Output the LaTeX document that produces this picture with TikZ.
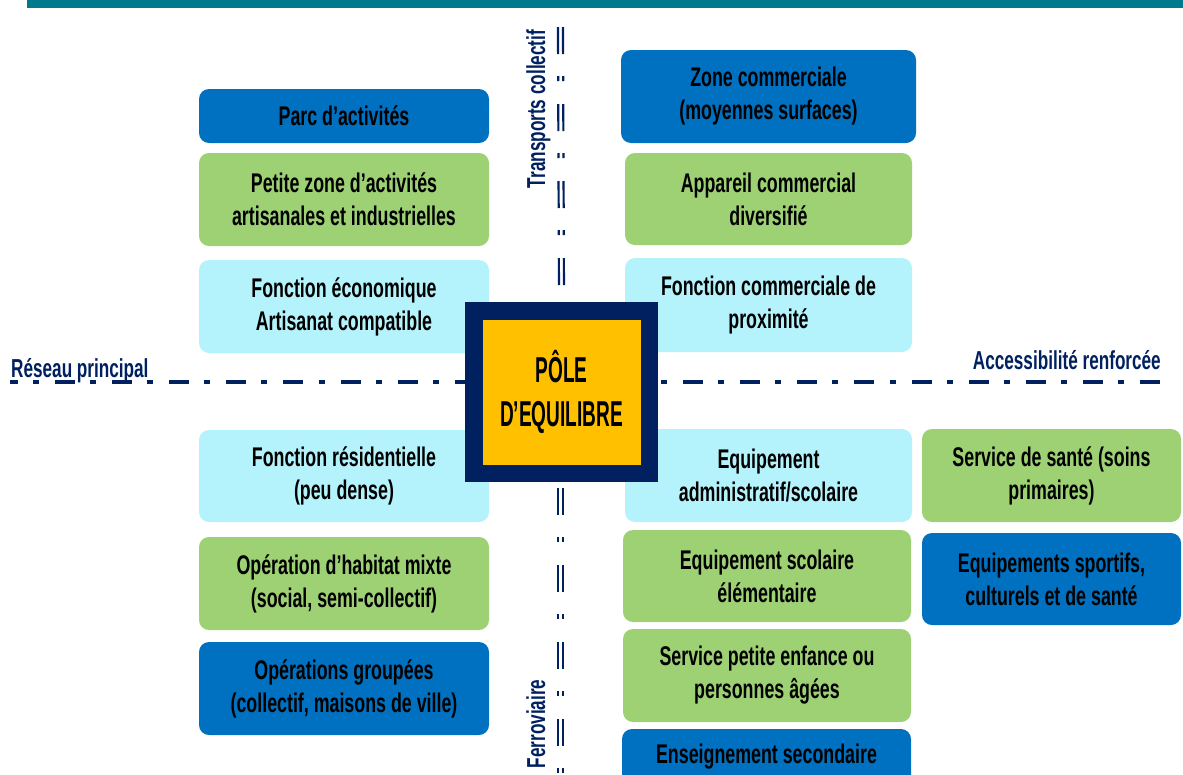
\documentclass[tikz,border=0pt]{standalone}
\usepackage{fontspec}
\setmainfont{Liberation Sans}
\newfontfamily\cellfont[FakeStretch=0.66]{Liberation Sans}
\newfontfamily\polefont[FakeStretch=0.53]{Liberation Sans}
\definecolor{navy}{HTML}{002060}
\definecolor{bluebox}{HTML}{0070C0}
\definecolor{greenbox}{HTML}{9DD174}
\definecolor{cyanbox}{HTML}{B4F3FC}
\definecolor{polefill}{HTML}{FFC000}
\definecolor{band}{HTML}{007A8C}
\begin{document}
\begin{tikzpicture}[x=1pt,y=-1pt]
		\tikzstyle{cell}=[rounded corners=10pt,inner sep=0pt,align=center,text=black,font=\cellfont\bfseries\fontsize{27}{33}\selectfont]
		\tikzstyle{axis}=[text=navy,inner sep=0pt,font=\cellfont\bfseries\fontsize{26}{30}\selectfont]
		\tikzstyle{rail}=[navy,line width=2.2pt,dash pattern=on 27pt off 22pt on 5pt off 23pt]
		\tikzstyle{route}=[navy,line width=4pt,dash pattern=on 6pt off 16pt on 20pt off 15.1pt,dash phase=34.1pt]
		\clip (0,0) rectangle (1183,774);
		\fill[band] (27,0) rectangle (1183,8);
		
		% axe routier
		\coordinate (route-w) at (10,382);
		\coordinate (route-e) at (1162,382);
		\draw[route] (route-w) -- (route-e);
		
		\begin{scope}
		\node[cell,fill=bluebox,minimum width=290pt,minimum height=54pt] (parc) at (344,116) {Parc d’activités};
		\node[cell,fill=greenbox,minimum width=290pt,minimum height=93pt] (petitezone) at (344,199.5) {Petite zone d’activités\\artisanales et industrielles};
		\node[cell,fill=cyanbox,minimum width=290pt,minimum height=93pt] (fonceco) at (344,306.5) {Fonction économique\\Artisanat compatible};
		\node[cell,fill=cyanbox,minimum width=290pt,minimum height=92pt] (residentiel) at (344,476) {Fonction résidentielle\\(peu dense)};
		\node[cell,fill=greenbox,minimum width=290pt,minimum height=93pt] (habitat) at (344,583.5) {Opération d’habitat mixte\\(social, semi-collectif)};
		\node[cell,fill=bluebox,minimum width=290pt,minimum height=93pt] (groupees) at (344,688.5) {Opérations groupées\\(collectif, maisons de ville)};
		\end{scope}
		
		\begin{scope}
		\node[cell,fill=bluebox,minimum width=295pt,minimum height=93pt] (zonecom) at (768.5,96.5) {Zone commerciale\\(moyennes surfaces)};
		\node[cell,fill=greenbox,minimum width=287pt,minimum height=92pt] (appareil) at (768.5,199) {Appareil commercial\\diversifié};
		\node[cell,fill=cyanbox,minimum width=287pt,minimum height=94pt] (fonccom) at (768.5,305) {Fonction commerciale de\\proximité};
		\node[cell,fill=cyanbox,minimum width=287pt,minimum height=93pt] (equipadmin) at (768.5,475.5) {Equipement\\administratif/scolaire};
		\node[cell,fill=greenbox,minimum width=288pt,minimum height=92pt] (scolaire) at (767,576) {Equipement scolaire\\élémentaire};
		\node[cell,fill=greenbox,minimum width=288pt,minimum height=93pt] (enfance) at (767,675.5) {Service petite enfance ou\\personnes âgées};
		\node[cell,fill=bluebox,minimum width=289pt,minimum height=93pt] (secondaire) at (766.5,775.5) {Enseignement secondaire\\\strut};
		\node[cell,fill=greenbox,minimum width=259pt,minimum height=93pt] (sante) at (1051.5,475.5) {Service de santé (soins\\primaires)};
		\node[cell,fill=bluebox,minimum width=259pt,minimum height=92pt] (sportifs) at (1051.5,579) {Equipements sportifs,\\culturels et de santé};
		\end{scope}
		
		\node[draw=navy,line width=17.5pt,fill=polefill,minimum width=175.5pt,minimum height=162.5pt,inner sep=0pt,align=center,font=\polefont\bfseries\fontsize{36}{44}\selectfont] (pole) at (561.5,392) {PÔLE\\D’EQUILIBRE};
		
		% axe ferre
		\coordinate (rail-n) at (560.5,27);
		\coordinate (rail-s) at (560.5,488);
		\coordinate (rail-end) at (560.5,774);
		\draw[rail] ([xshift=-2.5pt]rail-n) -- ([xshift=-2.5pt]pole.north);
		\draw[rail] ([xshift=2.5pt]rail-n) -- ([xshift=2.5pt]pole.north);
		\draw[rail] ([xshift=-2.5pt]rail-s) -- ([xshift=-2.5pt]rail-end);
		\draw[rail] ([xshift=2.5pt]rail-s) -- ([xshift=2.5pt]rail-end);
		
		\node[axis,anchor=base west] (reseau) at (11,377) {Réseau principal};
		\node[axis,anchor=base east] (acces) at (1161,369) {Accessibilité renforcée};
		\node[axis,rotate=90,anchor=base] (tc) at (545,109) {Transports collectif};
		\node[axis,rotate=90,anchor=base] (fer) at (545,724) {Ferroviaire};
		
		\end{tikzpicture}
\end{document}
